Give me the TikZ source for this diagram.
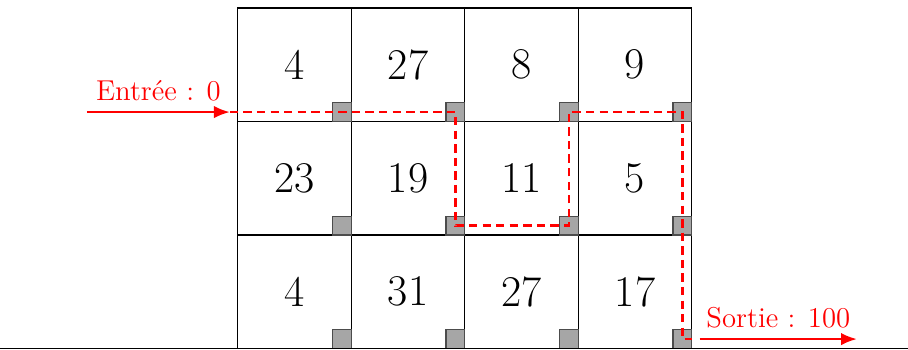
\documentclass[tikz,border=0pt]{standalone}
\usepackage{tikz}
\usetikzlibrary{arrows.meta,positioning,calc}
\usepackage{xcolor}
\definecolor{PathRed}{RGB}{255,0,0}
\definecolor{MarkGray}{RGB}{166,166,166}
\tikzset{
  cell/.style={draw=black,line width=0.6pt,minimum size=2cm,outer sep=0pt,
    inner sep=0pt,font=\fontsize{22}{26}\selectfont},
  marker/.style={draw=black!70,line width=0.6pt,fill=MarkGray,
    minimum size=0.33cm,inner sep=0pt,outer sep=0pt,anchor=south east},
  flowarrow/.style={-{Latex[length=2.8mm,width=2.2mm]},
    line width=1.2pt,draw=PathRed},
  pathline/.style={draw=PathRed,line width=1.2pt,
    dash pattern=on 4.2pt off 2.6pt},
  redlabel/.style={text=PathRed,font=\Large,inner sep=5pt},
}
\begin{document}
\begin{tikzpicture}[node distance=0cm]
  \useasboundingbox (-5.19,-5.02) rectangle (10.81,1.14);
  % grid
  \node[cell] (a1) {4};
  \node[cell,right=of a1] (a2) {27};
  \node[cell,right=of a2] (a3) {8};
  \node[cell,right=of a3] (a4) {9};
  \node[cell,below=of a1] (b1) {23};
  \node[cell,right=of b1] (b2) {19};
  \node[cell,right=of b2] (b3) {11};
  \node[cell,right=of b3] (b4) {5};
  \node[cell,below=of b1] (c1) {4};
  \node[cell,right=of c1] (c2) {31};
  \node[cell,right=of c2] (c3) {27};
  \node[cell,right=of c3] (c4) {17};
  % corner squares
  \foreach \n in {a1,a2,a3,a4,b1,b2,b3,b4,c1,c2,c3,c4}
    \node[marker] (s\n) at (\n.south east) {};
  % ground line
  \draw[line width=0.6pt] ($(c1.south west)+(-4.19,0)$) -- ($(c4.south east)+(3.81,0)$);
  % entry and exit
  \coordinate (entry) at ($(a1.west |- sa1.center)+(-2.66,0)$);
  \coordinate (entryEnd) at ($(a1.west |- sa1.center)+(-0.14,0)$);
  \coordinate (exitEnd) at (c4.east |- sc4.center);
  \coordinate (exit) at ($(exitEnd)+(0.14,0)$);
  \coordinate (exitTip) at ($(exitEnd)+(2.91,0)$);
  \draw[flowarrow] (entry) -- node[above,redlabel] {Entrée : 0} (entryEnd);
  \draw[pathline] (entryEnd) -- (sa2.center) -- (sb2.center) -- (sb3.center)
    -- (sa3.center) -- (sa4.center) -- (sc4.center) -- (exitEnd);
  \draw[flowarrow] (exit) -- node[above,redlabel] {Sortie : 100} (exitTip);
\end{tikzpicture}
\end{document}
